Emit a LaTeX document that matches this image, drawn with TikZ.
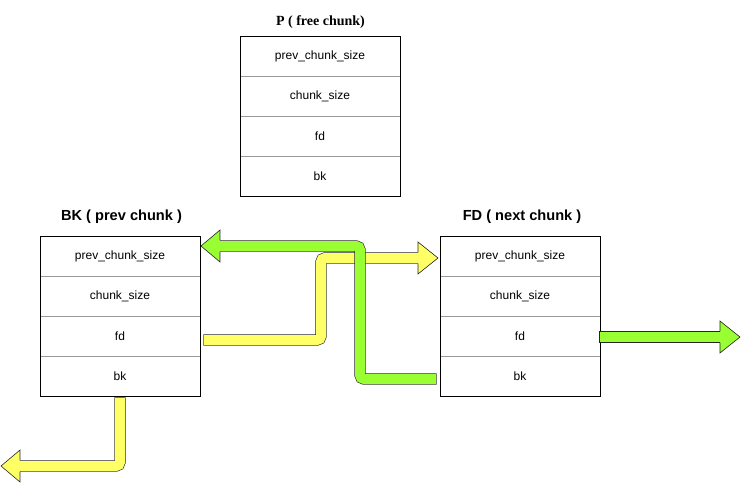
\documentclass[tikz,border=0pt]{standalone}
\usepackage{fontspec}
\setmainfont{Liberation Sans}
\newfontfamily\serifbold{Liberation Serif}
\usetikzlibrary{positioning}
\usetikzlibrary{calc}
\usepackage{xcolor}
\definecolor{arryellow}{HTML}{FFFF66}
\definecolor{arrgreen}{HTML}{99FF33}

\begin{document}
\begin{tikzpicture}
		\tikzstyle{field} = [rectangle, draw=gray!80, minimum width=160pt, minimum height=40pt,
		inner sep=0pt, outer sep=0pt, font=\fontsize{12pt}{14pt}\selectfont]
		\tikzstyle{chunktitle} = [inner sep=0pt, font=\fontsize{14.6pt}{16pt}\selectfont\bfseries]
		\tikzstyle{frame} = [draw=black, line width=0.7pt]
		\tikzstyle{flexshaft} = [line width=10pt, rounded corners=4pt,
		preaction={draw=black!85, line width=11.2pt, shorten <=-0.6pt}]
		\tikzstyle{flexhead} = [draw=black!85, line width=0.6pt]

		\useasboundingbox (-320pt,56pt) rectangle (421pt,-427pt);

		% P (free chunk)
		\node [field] (pprev) at (0,0) {prev\_chunk\_size};
		\node [field, below=0pt of pprev] (psize) {chunk\_size};
		\node [field, below=0pt of psize] (pfd) {fd};
		\node [field, below=0pt of pfd] (pbk) {bk};
		\draw [frame] (pprev.north west) rectangle (pbk.south east);
		\node [chunktitle, font=\fontsize{14pt}{16pt}\selectfont\bfseries, above=11pt of pprev, anchor=base, xshift=0.5pt] (ptitle) {\serifbold P ( free chunk)};

		% BK (prev chunk)
		\node [field, below left=40pt and 40pt of pbk] (bkprev) {prev\_chunk\_size};
		\node [field, below=0pt of bkprev] (bksize) {chunk\_size};
		\node [field, below=0pt of bksize] (bkfd) {fd};
		\node [field, below=0pt of bkfd] (bkbk) {bk};
		\draw [frame] (bkprev.north west) rectangle (bkbk.south east);
		\node [chunktitle, above=16pt of bkprev, anchor=base, xshift=1.5pt] (bktitle) {BK ( prev chunk )};

		% FD (next chunk)
		\node [field, below right=40pt and 40pt of pbk] (fdprev) {prev\_chunk\_size};
		\node [field, below=0pt of fdprev] (fdsize) {chunk\_size};
		\node [field, below=0pt of fdsize] (fdfd) {fd};
		\node [field, below=0pt of fdfd] (fdbk) {bk};
		\draw [frame] (fdprev.north west) rectangle (fdbk.south east);
		\node [chunktitle, above=16pt of fdprev, anchor=base, xshift=2pt] (fdtitle) {FD ( next chunk )};

		% arrows
		\coordinate (y1a) at ($(bkfd.east)+(4pt,-4pt)$);
		\coordinate (y1b) at ($(fdprev.west)+(-2pt,-2pt)$);
		\draw [flexshaft, draw=arryellow] (y1a) -- ++(117pt,0) |- ($(y1b)+(-20pt,0)$);
		\filldraw [flexhead, fill=arryellow] ($(y1b)+(-20pt,5.6pt)$) -- ++(0,10.4pt) -- (y1b) -- ($(y1b)+(-20pt,-16pt)$) -- ++(0,10.4pt);
		%
		\coordinate (g1a) at ($(fdbk.west)+(-4pt,-3pt)$);
		\coordinate (g1b) at ($(bkprev.east)+(1pt,10pt)$);
		\draw [flexshaft, draw=arrgreen] (g1a) -- ++(-76pt,0) |- ($(g1b)+(19pt,0)$);
		\filldraw [flexhead, fill=arrgreen] ($(g1b)+(19pt,5.6pt)$) -- ++(0,10.4pt) -- (g1b) -- ($(g1b)+(19pt,-16pt)$) -- ++(0,10.4pt);
		%
		\coordinate (g2a) at ($(fdfd.east)+(0,-1pt)$);
		\coordinate (g2b) at ($(fdfd.east)+(140pt,-1pt)$);
		\draw [flexshaft, draw=arrgreen] (g2a) -- ($(g2b)+(-20pt,0)$);
		\filldraw [flexhead, fill=arrgreen] ($(g2b)+(-20pt,5.6pt)$) -- ++(0,10.4pt) -- (g2b) -- ($(g2b)+(-20pt,-16pt)$) -- ++(0,10.4pt);
		%
		\coordinate (y2a) at ($(bkbk.south)+(0,-2pt)$);
		\coordinate (y2b) at ($(bkbk.south)+(-119pt,-70pt)$);
		\draw [flexshaft, draw=arryellow] (y2a) |- ($(y2b)+(19pt,0)$);
		\filldraw [flexhead, fill=arryellow] ($(y2b)+(19pt,5.6pt)$) -- ++(0,10.4pt) -- (y2b) -- ($(y2b)+(19pt,-16pt)$) -- ++(0,10.4pt);

	\end{tikzpicture}
\end{document}
